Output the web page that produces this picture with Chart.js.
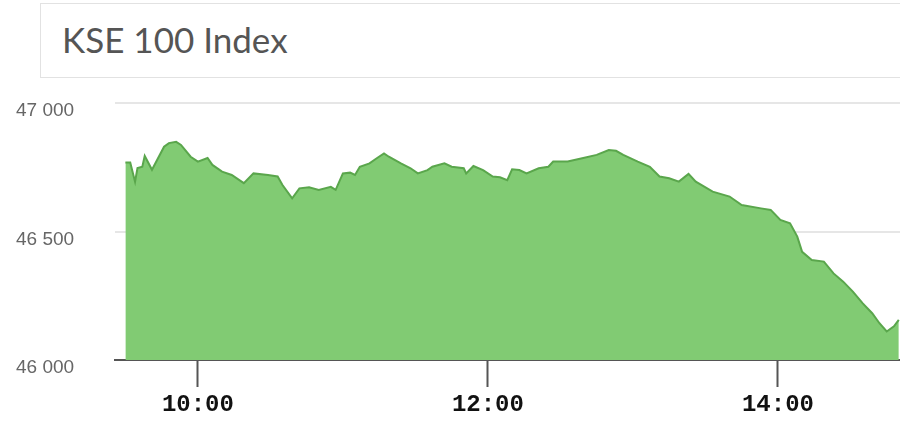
<!DOCTYPE html>
<html>
<head>
<meta charset="utf-8">
<script src="https://cdn.jsdelivr.net/npm/chart.js@4"></script>
<style>
  html, body { margin: 0; padding: 0; background: #fff; }
  body { width: 900px; height: 429px; position: relative; overflow: hidden; }
  #titleBox {
    position: absolute; left: 40px; top: 3px; width: 900px; height: 75px;
    border: 1px solid #e2e2e2; box-sizing: border-box; background: #fff;
  }
  #titleBox span {
    position: absolute; left: 21px; top: 15px;
    font-family: Lato, "Open Sans", sans-serif; font-size: 35px; color: #555;
    line-height: 40px;
  }
  #c { position: absolute; left: 0; top: 0; }
</style>
</head>
<body>
<div id="titleBox"><span>KSE 100 Index</span></div>
<canvas id="c" width="900" height="429"></canvas>
<script>
const titleText = "KSE 100 Index";
const times = ["9:30","9:32","9:34","9:35","9:37","9:38","9:41","9:46","9:48","9:51","9:53","9:57","10:00","10:04","10:06","10:10","10:14","10:19","10:23","10:29","10:33","10:35","10:39","10:42","10:46","10:50","10:55","10:57","11:00","11:03","11:05","11:07","11:11","11:14","11:17","11:19","11:24","11:28","11:31","11:35","11:37","11:42","11:45","11:50","11:51","11:54","11:58","12:02","12:05","12:08","12:10","12:13","12:16","12:21","12:25","12:27","12:33","12:39","12:45","12:50","12:53","12:56","13:02","13:07","13:11","13:15","13:19","13:23","13:26","13:33","13:40","13:45","13:53","13:57","14:01","14:05","14:08","14:10","14:14","14:19","14:23","14:27","14:31","14:35","14:39","14:42","14:45","14:48","14:50"];
const values = [46768,46768,46694,46747,46752,46794,46740,46830,46844,46849,46837,46791,46772,46786,46759,46733,46720,46688,46726,46720,46714,46681,46629,46668,46672,46662,46674,46662,46726,46729,46720,46752,46765,46785,46804,46791,46765,46746,46726,46739,46752,46765,46752,46746,46726,46755,46739,46714,46711,46700,46742,46739,46726,46746,46752,46772,46772,46785,46798,46817,46814,46798,46772,46752,46714,46707,46694,46724,46694,46655,46636,46603,46590,46584,46545,46532,46480,46421,46389,46383,46337,46305,46266,46221,46182,46143,46111,46131,46156];
const xTickLabels = ["10:00","12:00","14:00"];
const yTickValues = [46000, 46500, 47000];

function toMin(t) { const p = t.split(":"); return (+p[0]) * 60 + (+p[1]); }
const n = Math.min(times.length, values.length);
const points = [];
for (let i = 0; i < n; i++) points.push({ x: toMin(times[i]), y: values[i] });
const xTickValues = xTickLabels.map(toMin);

new Chart(document.getElementById("c"), {
  type: "line",
  data: {
    datasets: [{
      data: points,
      borderColor: "#5aa64c",
      backgroundColor: "#81cb73",
      borderWidth: 2,
      pointRadius: 0,
      tension: 0,
      fill: "start"
    }]
  },
  options: {
    responsive: false,
    devicePixelRatio: 1,
    animation: false,
    layout: { padding: { top: 103, left: 16, right: 0, bottom: 0 } },
    plugins: { legend: { display: false }, tooltip: { enabled: false }, title: { display: false } },
    scales: {
      x: {
        type: "linear",
        min: 565.7,
        max: 890.5,
        afterBuildTicks: s => { s.ticks = xTickValues.map(v => ({ value: v })); },
        afterFit: s => { s.height = 69; },
        grid: { drawOnChartArea: false, drawTicks: true, tickLength: 27, tickColor: "#555", tickWidth: 2 },
        border: { display: true, color: "#555", width: 2 },
        ticks: {
          autoSkip: false, maxRotation: 0, padding: 4,
          color: "#111",
          font: { family: "'Liberation Mono', 'Courier New', monospace", size: 24, weight: "bold" },
          callback: (v, i) => xTickLabels[i]
        }
      },
      y: {
        min: 46000,
        max: 47000,
        afterBuildTicks: s => { s.ticks = yTickValues.map(v => ({ value: v })); },
        afterFit: s => { s.width = 99; },
        grid: { color: "#e6e6e6", lineWidth: 2, drawTicks: false },
        border: { display: false },
        ticks: {
          crossAlign: "far", padding: 0, labelOffset: 8,
          color: "#666",
          font: { family: "'Liberation Sans', Arial, sans-serif", size: 19 },
          callback: v => String(v).replace(/\B(?=(\d{3})+(?!\d))/g, " ")
        }
      }
    }
  }
});
</script>
</body>
</html>
